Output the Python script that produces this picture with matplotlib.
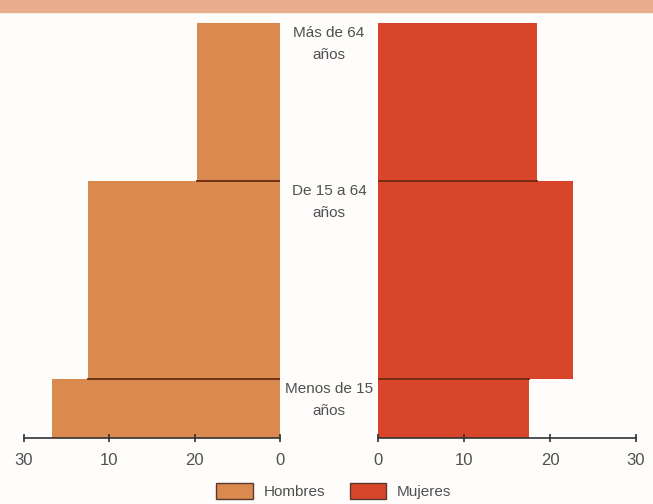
import matplotlib.pyplot as plt
from matplotlib.patches import Rectangle, Patch

# age bands (years) and their labels
band_edges = [0, 15, 65, 105]
band_labels = ["Menos de 15\naños", "De 15 a 64\naños", "Más de 64\naños"]

hombres = [26.7, 22.5, 9.7]
mujeres = [17.6, 22.7, 18.5]

left_ticks = [30, 20, 10, 0]
left_tick_labels = ["30", "10", "20", "0"]
right_ticks = [0, 10, 20, 30]
right_tick_labels = ["0", "10", "20", "30"]

c_h = "#DA8A4F"
c_m = "#D8452B"
edge_dark = "#6B2A10"
txt = "#505050"
font = ["Liberation Sans", "DejaVu Sans"]

fig = plt.figure(figsize=(6.53, 5.04), dpi=100)
fig.patch.set_facecolor("#FEFDFB")
fig.patches.append(Rectangle((0, 1 - 12 / 504), 1, 12 / 504, transform=fig.transFigure,
                             color="#E9AD8E", zorder=0))

ax_l = fig.add_axes([24 / 653, 1 - 438 / 504, 256 / 653, 415 / 504])
ax_r = fig.add_axes([378 / 653, 1 - 438 / 504, 258 / 653, 415 / 504])

lows = band_edges[:-1]
heights = [band_edges[i + 1] - band_edges[i] for i in range(len(lows))]

ax_l.barh(lows, hombres, height=heights, align="edge", color=c_h)
ax_r.barh(lows, mujeres, height=heights, align="edge", color=c_m)

# dark boundary lines between bands
for i in range(1, len(lows)):
    y = band_edges[i]
    ax_l.plot([0, min(hombres[i - 1], hombres[i])], [y, y], color=edge_dark, lw=1.3, zorder=3)
    ax_r.plot([0, min(mujeres[i - 1], mujeres[i])], [y, y], color=edge_dark, lw=1.3, zorder=3)

for ax, ticks, labels in ((ax_l, left_ticks, left_tick_labels), (ax_r, right_ticks, right_tick_labels)):
    ax.set_facecolor("none")
    ax.set_xlim(0, 30)
    ax.set_ylim(band_edges[0], band_edges[-1])
    for s in ("top", "left", "right"):
        ax.spines[s].set_visible(False)
    ax.spines["bottom"].set_color("#333333")
    ax.spines["bottom"].set_linewidth(1.2)
    ax.set_yticks([])
    ax.set_xticks(ticks)
    ax.set_xticklabels(labels, family=font, fontsize=12, color=txt)
    ax.tick_params(axis="x", direction="inout", length=6, width=1.2, color="#333333", pad=8)
ax_l.invert_xaxis()

# age labels in the centre
for i, lab in enumerate(band_labels):
    y_fig = 1 - (438 - (438 - 23) * band_edges[i + 1] / band_edges[-1]) / 504
    fig.text(329 / 653, y_fig - 3 / 504, lab, ha="center", va="top", family=font,
             fontsize=11, color=txt, linespacing=1.75)

handles = [Patch(facecolor=c_h, edgecolor="#5a3a2a", label="Hombres"),
           Patch(facecolor=c_m, edgecolor="#5a3a2a", label="Mujeres")]
fig.legend(handles=handles, loc="center", bbox_to_anchor=(334 / 653, 1 - 491 / 504), ncol=2,
           frameon=False, prop={"family": font, "size": 11}, labelcolor=txt,
           handlelength=2.4, handleheight=1.2, handletextpad=0.7, columnspacing=1.6)

fig.savefig("out.png", dpi=100, facecolor=fig.get_facecolor())
